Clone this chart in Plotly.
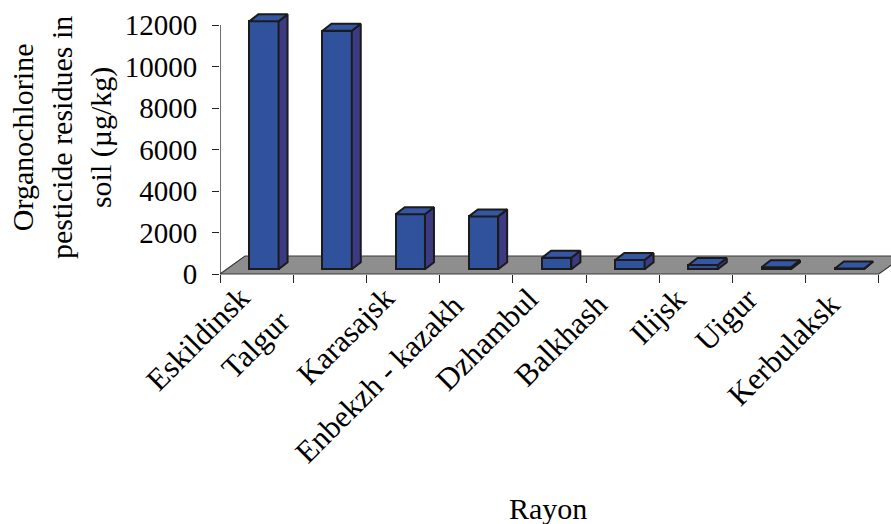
import plotly.graph_objects as go

# Organochlorine pesticide residues in soil by rayon (µg/kg)
rayons = ["Eskildinsk", "Talgur", "Karasajsk", "Enbekzh - kazakh", "Dzhambul",
          "Balkhash", "Ilijsk", "Uigur", "Kerbulaksk"]
residues = [11950, 11500, 2650, 2550, 560, 450, 210, 100, 40]
y_ticks = [0, 2000, 4000, 6000, 8000, 10000, 12000]
y_tick_text = [str(v) for v in y_ticks]

# ---- layout geometry (pixels) ----
W, H = 891, 524
L, R, T, B = 220, 0, 10, 234
plot_w = W - L - R
plot_h = H - T - B
cat_px = 73.2                    # width of one category slot
y_px_per_unit = 249 / 12000      # vertical scale
floor_px = 274                   # pixel row of value 0 on the front edge

x_max = plot_w / cat_px
y_min = -(H - B - floor_px) / y_px_per_unit
y_max = 12000 + (25 - T) / y_px_per_unit

# pseudo-3D offsets, converted from pixels to axis units
def ux(px):
    return px / cat_px

def uy(px):
    return px / y_px_per_unit

floor_dx, floor_dy = ux(25), uy(18)
bar_dx, bar_dy = ux(9), uy(7)
bar_base = uy(4.7)
bar_left, bar_width = 0.40, 0.40

FRONT = "#30529C"
SIDE = "#3B3A82"
TOP = "#3456A3"
EDGE = "#1b1b1b"
FONT = "Liberation Serif, Times New Roman, serif"

n = len(rayons)
fig = go.Figure()

# front faces of the columns
fig.add_trace(go.Bar(
    x=[i + bar_left + bar_width / 2 for i in range(n)],
    y=residues,
    base=[bar_base] * n,
    width=bar_width,
    marker=dict(color=FRONT, line=dict(color=EDGE, width=2)),
    hoverinfo="skip", showlegend=False,
))

# right side faces and top faces
side_x, side_y, top_x, top_y = [], [], [], []
for i, v in enumerate(residues):
    x0 = i + bar_left
    x1 = x0 + bar_width
    b0 = bar_base
    b1 = bar_base + v
    side_x += [x1, x1 + bar_dx, x1 + bar_dx, x1, x1, None]
    side_y += [b0, b0 + bar_dy, b1 + bar_dy, b1, b0, None]
    top_x += [x0, x0 + bar_dx, x1 + bar_dx, x1, x0, None]
    top_y += [b1, b1 + bar_dy, b1 + bar_dy, b1, b1, None]

fig.add_trace(go.Scatter(x=side_x, y=side_y, mode="lines", fill="toself",
                         fillcolor=SIDE, line=dict(color=EDGE, width=2),
                         hoverinfo="skip", showlegend=False))
fig.add_trace(go.Scatter(x=top_x, y=top_y, mode="lines", fill="toself",
                         fillcolor=TOP, line=dict(color=EDGE, width=2),
                         hoverinfo="skip", showlegend=False))

# grey floor under the columns
floor_path = (f"M 0,0 L {n},0 L {n + floor_dx},{floor_dy} "
              f"L {floor_dx},{floor_dy} Z")
shapes = [
    dict(type="path", xref="x", yref="y", path=floor_path, layer="below",
         fillcolor="#8E8E8E", line=dict(color="#3a3a3a", width=1.2)),
    # value axis line
    dict(type="line", xref="x", yref="y", x0=0, x1=0, y0=0, y1=y_ticks[-1],
         line=dict(color="#222222", width=1.3)),
]

axis_pos = (H - B - floor_px) / plot_h

# rotated category labels: offsets of each label's top-right corner
label_shift = [(1.4, 4), (-31.8, 28), (0, 4), (-4.2, 12), (-3.4, 6),
               (-6.6, 11), (-1.8, 6), (-3, 6), (5.8, 11)]
annotations = []
for i, (name, (dx, dy)) in enumerate(zip(rayons, label_shift)):
    annotations.append(dict(
        x=i + 0.5, y=axis_pos, xref="x", yref="paper",
        text=name, textangle=-45, showarrow=False,
        xanchor="right", yanchor="top", xshift=dx, yshift=-dy,
        borderpad=0, font=dict(family=FONT, size=31, color="black"),
    ))

def paper_x(px):
    return (px - L) / plot_w

def paper_y(py):
    return (H - B - py) / plot_h

annotations.append(dict(
    x=paper_x(62), y=paper_y(138), xref="paper", yref="paper",
    text="Organochlorine<br>pesticide residues in<br>soil (µg/kg)",
    textangle=-90, showarrow=False, xanchor="center", yanchor="middle",
    font=dict(family=FONT, size=30, color="black"),
))
annotations.append(dict(
    x=paper_x(548), y=paper_y(508), xref="paper", yref="paper",
    text="Rayon", showarrow=False, xanchor="center", yanchor="middle",
    font=dict(family=FONT, size=30, color="black"),
))

fig.update_layout(
    width=W, height=H,
    margin=dict(l=L, r=R, t=T, b=B, pad=0),
    paper_bgcolor="white", plot_bgcolor="white",
    shapes=shapes, annotations=annotations,
    xaxis=dict(range=[0, x_max], tickvals=list(range(n + 1)),
               showticklabels=False, ticks="outside", ticklen=8,
               tickcolor="#222222", tickwidth=1.2,
               showgrid=False, zeroline=False, showline=False,
               anchor="free", position=axis_pos, fixedrange=True),
    yaxis=dict(range=[y_min, y_max], tickvals=y_ticks, ticktext=y_tick_text,
               ticks="outside", ticklen=7, tickcolor="#222222", tickwidth=1.2,
               ticklabelstandoff=9,
               tickfont=dict(family=FONT, size=29, color="black"),
               showgrid=False, zeroline=False, showline=False,
               fixedrange=True),
    bargap=0,
)

fig.write_html("out.html")
